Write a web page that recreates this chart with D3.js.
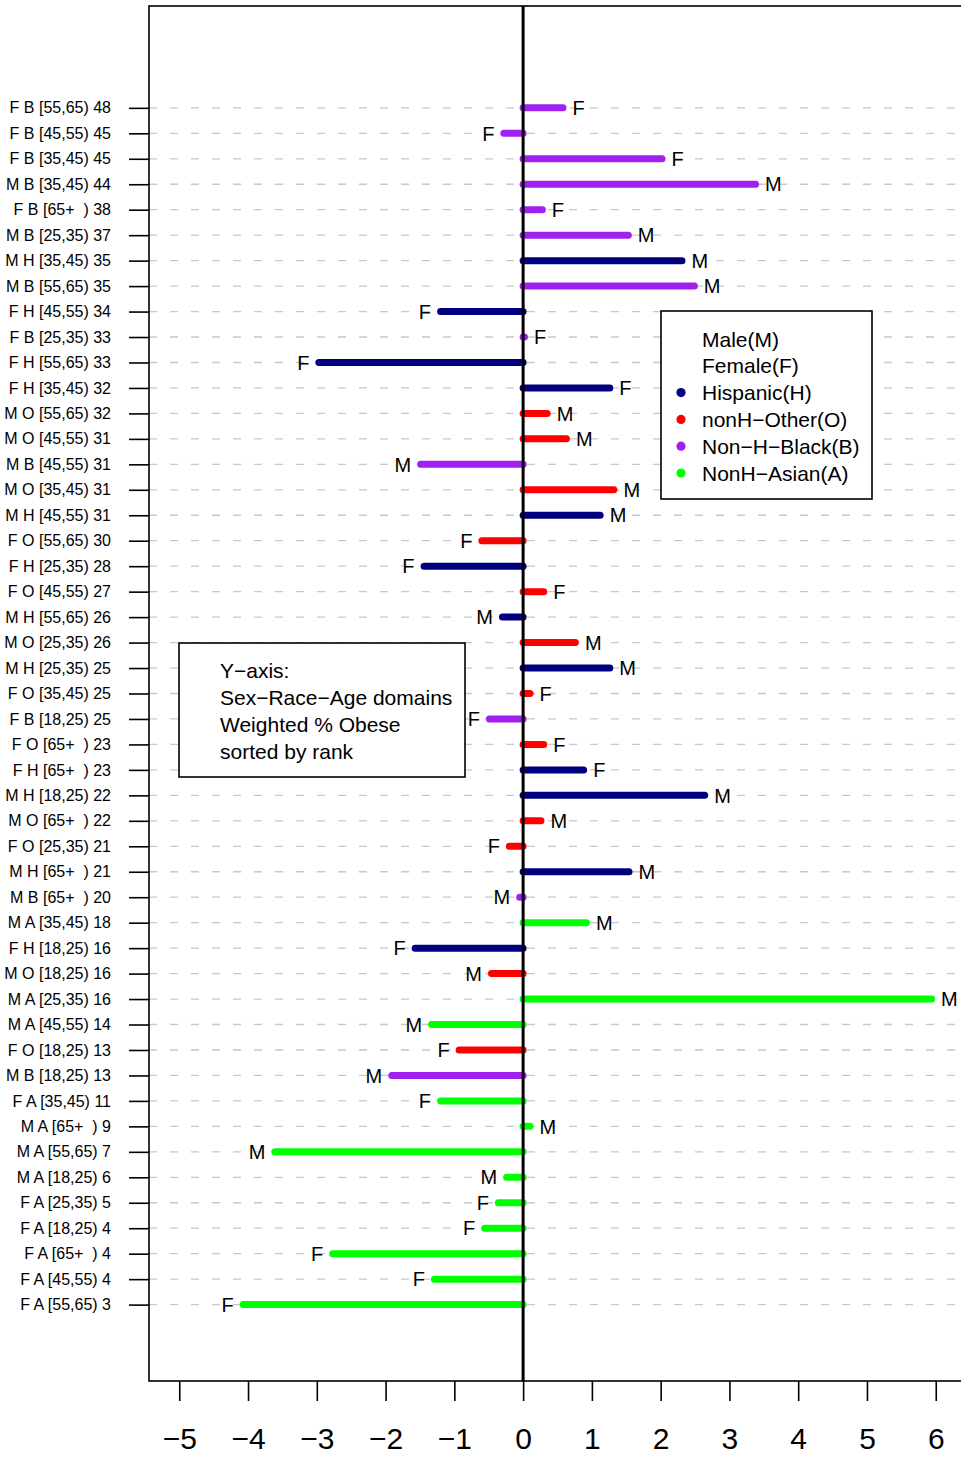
<!DOCTYPE html>
<html>
<head>
<meta charset="utf-8">
<script src="https://cdn.jsdelivr.net/npm/d3@7"></script>
<style>
  html, body { margin: 0; padding: 0; background: #fff; }
  svg { display: block; font-family: "Liberation Sans", Arial, Helvetica, sans-serif; }
</style>
</head>
<body>
<svg id="chart" width="961" height="1459"></svg>
<script>
// Domains listed top to bottom: Sex Race [Age) weighted % obese
const domainLabels = [
  "F B [55,65) 48", "F B [45,55) 45", "F B [35,45) 45", "M B [35,45) 44",
  "F B [65+  ) 38", "M B [25,35) 37", "M H [35,45) 35", "M B [55,65) 35",
  "F H [45,55) 34", "F B [25,35) 33", "F H [55,65) 33", "F H [35,45) 32",
  "M O [55,65) 32", "M O [45,55) 31", "M B [45,55) 31", "M O [35,45) 31",
  "M H [45,55) 31", "F O [55,65) 30", "F H [25,35) 28", "F O [45,55) 27",
  "M H [55,65) 26", "M O [25,35) 26", "M H [25,35) 25", "F O [35,45) 25",
  "F B [18,25) 25", "F O [65+  ) 23", "F H [65+  ) 23", "M H [18,25) 22",
  "M O [65+  ) 22", "F O [25,35) 21", "M H [65+  ) 21", "M B [65+  ) 20",
  "M A [35,45) 18", "F H [18,25) 16", "M O [18,25) 16", "M A [25,35) 16",
  "M A [45,55) 14", "F O [18,25) 13", "M B [18,25) 13", "F A [35,45) 11",
  "M A [65+  ) 9",  "M A [55,65) 7",  "M A [18,25) 6",  "F A [25,35) 5",
  "F A [18,25) 4",  "F A [65+  ) 4",  "F A [45,55) 4",  "F A [55,65) 3"
];

// Bar values, same order as domainLabels
const barValues = [
   0.58, -0.28,  2.02,  3.38,
   0.28,  1.53,  2.31,  2.49,
  -1.20,  0.02, -2.97,  1.26,
   0.35,  0.63, -1.49,  1.32,
   1.12, -0.60, -1.44,  0.30,
  -0.30,  0.76,  1.26,  0.10,
  -0.49,  0.30,  0.88,  2.64,
   0.26, -0.20,  1.54, -0.05,
   0.92, -1.57, -0.46,  5.94,
  -1.33, -0.93, -1.91, -1.20,
   0.10, -3.61, -0.24, -0.36,
  -0.56, -2.77, -1.29, -4.07
];

const xTicks = [-5, -4, -3, -2, -1, 0, 1, 2, 3, 4, 5, 6];

const raceCodes = ["H", "O", "B", "A"];
const raceColors = ["#000080", "#ff0000", "#a020f0", "#00ff00"];
const raceNames = ["Hispanic(H)", "nonH\u2212Other(O)", "Non\u2212H\u2212Black(B)", "NonH\u2212Asian(A)"];
const sexNames = ["Male(M)", "Female(F)"];
const noteLines = ["Y\u2212axis:", "Sex\u2212Race\u2212Age domains", "Weighted % Obese", "sorted by rank"];

const n = domainLabels.length;
const rows = domainLabels.map((label, i) => {
  const parts = label.split(" ");
  return { label, rank: n - i, value: barValues[i], sex: parts[0], race: parts[1] };
});

const svg = d3.select("#chart");
const plot = { left: 149, right: 966, top: 6, bottom: 1381 };

// x: limits -5..6 with 4% padding on each side; y: ranks 0..50 with 4% padding
const x = d3.scaleLinear().domain([-5.44, 6.44]).range([plot.left, plot.right]);
const y = d3.scaleLinear().domain([-2, 52]).range([plot.bottom, plot.top]);
const color = d3.scaleOrdinal().domain(raceCodes).range(raceColors);

svg.append("defs").append("clipPath").attr("id", "plotClip")
  .append("rect")
  .attr("x", plot.left).attr("y", plot.top)
  .attr("width", plot.right - plot.left).attr("height", plot.bottom - plot.top);

const inner = svg.append("g").attr("clip-path", "url(#plotClip)");

// dashed gray guide lines at each rank
inner.append("g").selectAll("line").data(rows).join("line")
  .attr("x1", plot.left).attr("x2", plot.right)
  .attr("y1", d => y(d.rank)).attr("y2", d => y(d.rank))
  .attr("stroke", "#c8c8c8").attr("stroke-width", 1.3)
  .attr("stroke-dasharray", "8,13");

// bars from zero to each value
inner.append("g").selectAll("line").data(rows).join("line")
  .attr("x1", x(0)).attr("x2", d => x(d.value))
  .attr("y1", d => y(d.rank)).attr("y2", d => y(d.rank))
  .attr("stroke", d => color(d.race))
  .attr("stroke-width", 7)
  .attr("stroke-linecap", "round");

// sex letter at the end of each bar
inner.append("g").selectAll("text").data(rows).join("text")
  .attr("x", d => x(d.value) + (d.value >= 0 ? 9.5 : -9.5))
  .attr("y", d => y(d.rank))
  .attr("dy", "0.36em")
  .attr("text-anchor", d => d.value >= 0 ? "start" : "end")
  .attr("font-size", 20)
  .attr("fill", "#000")
  .text(d => d.sex);

// zero reference line
svg.append("line")
  .attr("x1", x(0)).attr("x2", x(0))
  .attr("y1", plot.top).attr("y2", plot.bottom)
  .attr("stroke", "#000").attr("stroke-width", 3);

// plot frame
svg.append("rect")
  .attr("x", plot.left).attr("y", plot.top)
  .attr("width", plot.right - plot.left).attr("height", plot.bottom - plot.top)
  .attr("fill", "none").attr("stroke", "#000").attr("stroke-width", 1.6);

// y axis with domain labels
const yAxis = d3.axisLeft(y)
  .tickValues(rows.map(d => d.rank))
  .tickFormat(r => rows.find(d => d.rank === r).label)
  .tickSize(20).tickPadding(18);
const gy = svg.append("g").attr("transform", `translate(${plot.left},0)`).call(yAxis);
gy.select(".domain").remove();
gy.selectAll(".tick line").attr("stroke", "#000").attr("stroke-width", 1.6);
gy.selectAll(".tick text")
  .attr("font-size", 16).attr("fill", "#000")
  .attr("font-family", "'Liberation Sans', Arial, sans-serif")
  .style("white-space", "pre");

// x axis
const xAxis = d3.axisBottom(x).tickValues(xTicks).tickFormat(d3.format("d"))
  .tickSize(20).tickPadding(27);
const gx = svg.append("g").attr("transform", `translate(0,${plot.bottom})`).call(xAxis);
gx.select(".domain").remove();
gx.selectAll(".tick line").attr("stroke", "#000").attr("stroke-width", 1.6);
gx.selectAll(".tick text")
  .attr("font-size", 30).attr("fill", "#000")
  .attr("font-family", "'Liberation Sans', Arial, sans-serif");

// legend: sex and race colours
const leg = svg.append("g");
leg.append("rect")
  .attr("x", 661).attr("y", 311).attr("width", 211).attr("height", 188)
  .attr("fill", "#fff").attr("stroke", "#000").attr("stroke-width", 1.6);
const legendRows = sexNames.map(t => ({ t, c: null }))
  .concat(raceNames.map((t, i) => ({ t, c: raceColors[i] })));
const legY = d3.scalePoint().domain(d3.range(legendRows.length)).range([339, 473]);
leg.selectAll("circle").data(legendRows.filter(d => d.c)).join("circle")
  .attr("cx", 681)
  .attr("cy", d => legY(legendRows.indexOf(d)))
  .attr("r", 4.6)
  .attr("fill", d => d.c);
leg.selectAll("text").data(legendRows).join("text")
  .attr("x", 702)
  .attr("y", (d, i) => legY(i))
  .attr("dy", "0.36em")
  .attr("font-size", 21)
  .attr("fill", "#000")
  .text(d => d.t);

// note box
const note = svg.append("g");
note.append("rect")
  .attr("x", 179).attr("y", 643).attr("width", 286).attr("height", 134)
  .attr("fill", "#fff").attr("stroke", "#000").attr("stroke-width", 1.6);
const noteY = d3.scalePoint().domain(d3.range(noteLines.length)).range([670, 751]);
note.selectAll("text").data(noteLines).join("text")
  .attr("x", 220)
  .attr("y", (d, i) => noteY(i))
  .attr("dy", "0.36em")
  .attr("font-size", 21)
  .attr("fill", "#000")
  .text(d => d);
</script>
</body>
</html>
